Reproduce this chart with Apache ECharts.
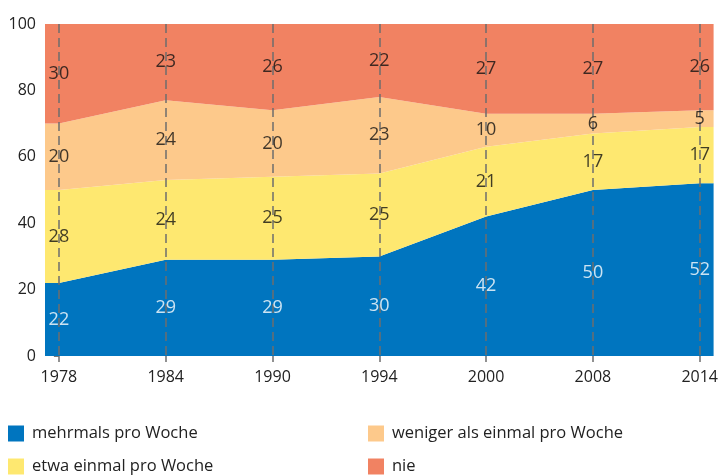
<!DOCTYPE html>
<html>
<head>
<meta charset="utf-8">
<script src="https://cdn.jsdelivr.net/npm/echarts@6/dist/echarts.min.js"></script>
<style>
  html, body { margin: 0; padding: 0; background: #fff; }
  #chart { width: 721px; height: 475px; }
</style>
</head>
<body>
<div id="chart"></div>
<script>
const years = ['1978', '1984', '1990', '1994', '2000', '2008', '2014'];
const mehrmals = [22, 29, 29, 30, 42, 50, 52];
const etwa = [28, 24, 25, 25, 21, 17, 17];
const weniger = [20, 24, 20, 23, 10, 6, 5];
const nie = [30, 23, 26, 22, 27, 27, 26];
const yTicks = [0, 20, 40, 60, 80, 100];

const layers = [
  { name: 'mehrmals pro Woche', values: mehrmals, color: '#0075bf', text: '#ffffff' },
  { name: 'etwa einmal pro Woche', values: etwa, color: '#fee870', text: '#111111' },
  { name: 'weniger als einmal pro Woche', values: weniger, color: '#fdc98b', text: '#111111' },
  { name: 'nie', values: nie, color: '#f18262', text: '#111111' }
];
// legend slots: [left, top] of each entry
const legendPos = [[3, 420], [3, 453], [363, 420], [363, 453]];

const FONT = 'Open Sans';
const pad = 0.13;
const last = years.length - 1;
const idx = years.map(function (_, i) { return i; });

let chart = echarts.init(document.getElementById('chart'));

// areas, pulled a little past the first and last year like the original.
// data is [value, index] so that stacking runs on the value dimension
const areaSeries = layers.map(function (l) {
  const pts = l.values.map(function (v, i) { return [v, i]; });
  pts.unshift([l.values[0], -pad]);
  pts.push([l.values[last], last + pad]);
  return {
    name: l.name,
    type: 'line',
    stack: 'total',
    data: pts,
    encode: { x: 1, y: 0 },
    showSymbol: false,
    symbol: 'none',
    lineStyle: { width: 0 },
    areaStyle: { color: l.color, opacity: 1 },
    itemStyle: { color: l.color },
    z: 2
  };
});

// value labels in the middle of each band
let base = years.map(function () { return 0; });
const labelSeries = layers.map(function (l) {
  const pts = l.values.map(function (v, i) {
    return [i, base[i] + v / 2, v];
  });
  base = base.map(function (b, i) { return b + l.values[i]; });
  return {
    type: 'scatter',
    data: pts,
    symbolSize: 1,
    itemStyle: { color: 'transparent' },
    label: {
      show: true,
      position: 'inside',
      formatter: function (p) { return p.data[2]; },
      color: l.text,
      fontFamily: FONT,
      fontSize: 18
    },
    silent: true,
    z: 20
  };
});

let option = {
  animation: false,
  grid: { left: 45, right: 5, top: 24, bottom: 119 },
  legend: layers.map(function (l, k) {
    return {
      data: [l.name],
      left: legendPos[k][0],
      top: legendPos[k][1],
      icon: 'rect',
      itemWidth: 16,
      itemHeight: 16,
      textStyle: { fontFamily: FONT, fontSize: 16.5, color: '#222', padding: [0, 0, 0, 3] }
    };
  }),
  xAxis: {
    type: 'value',
    min: -pad,
    max: last + pad,
    z: 10,
    axisLine: { show: false },
    axisTick: {
      show: true,
      customValues: idx,
      length: 6,
      lineStyle: { color: '#6e6e6e', width: 1.5 }
    },
    axisLabel: {
      customValues: idx,
      formatter: function (v) { return years[Math.round(v)]; },
      fontFamily: FONT,
      fontSize: 16,
      color: '#222',
      margin: 13
    },
    splitLine: {
      show: true,
      lineStyle: { color: '#6e6e6e', width: 1.5, type: [9, 5] }
    }
  },
  yAxis: {
    type: 'value',
    min: yTicks[0],
    max: yTicks[yTicks.length - 1],
    interval: 20,
    axisLine: { show: false },
    axisTick: { show: true, length: 5, lineStyle: { color: '#777' } },
    axisLabel: { fontFamily: FONT, fontSize: 16, color: '#222', margin: 9 },
    splitLine: { show: false }
  },
  series: areaSeries.concat(labelSeries)
};
chart.setOption(option);
</script>
</body>
</html>
